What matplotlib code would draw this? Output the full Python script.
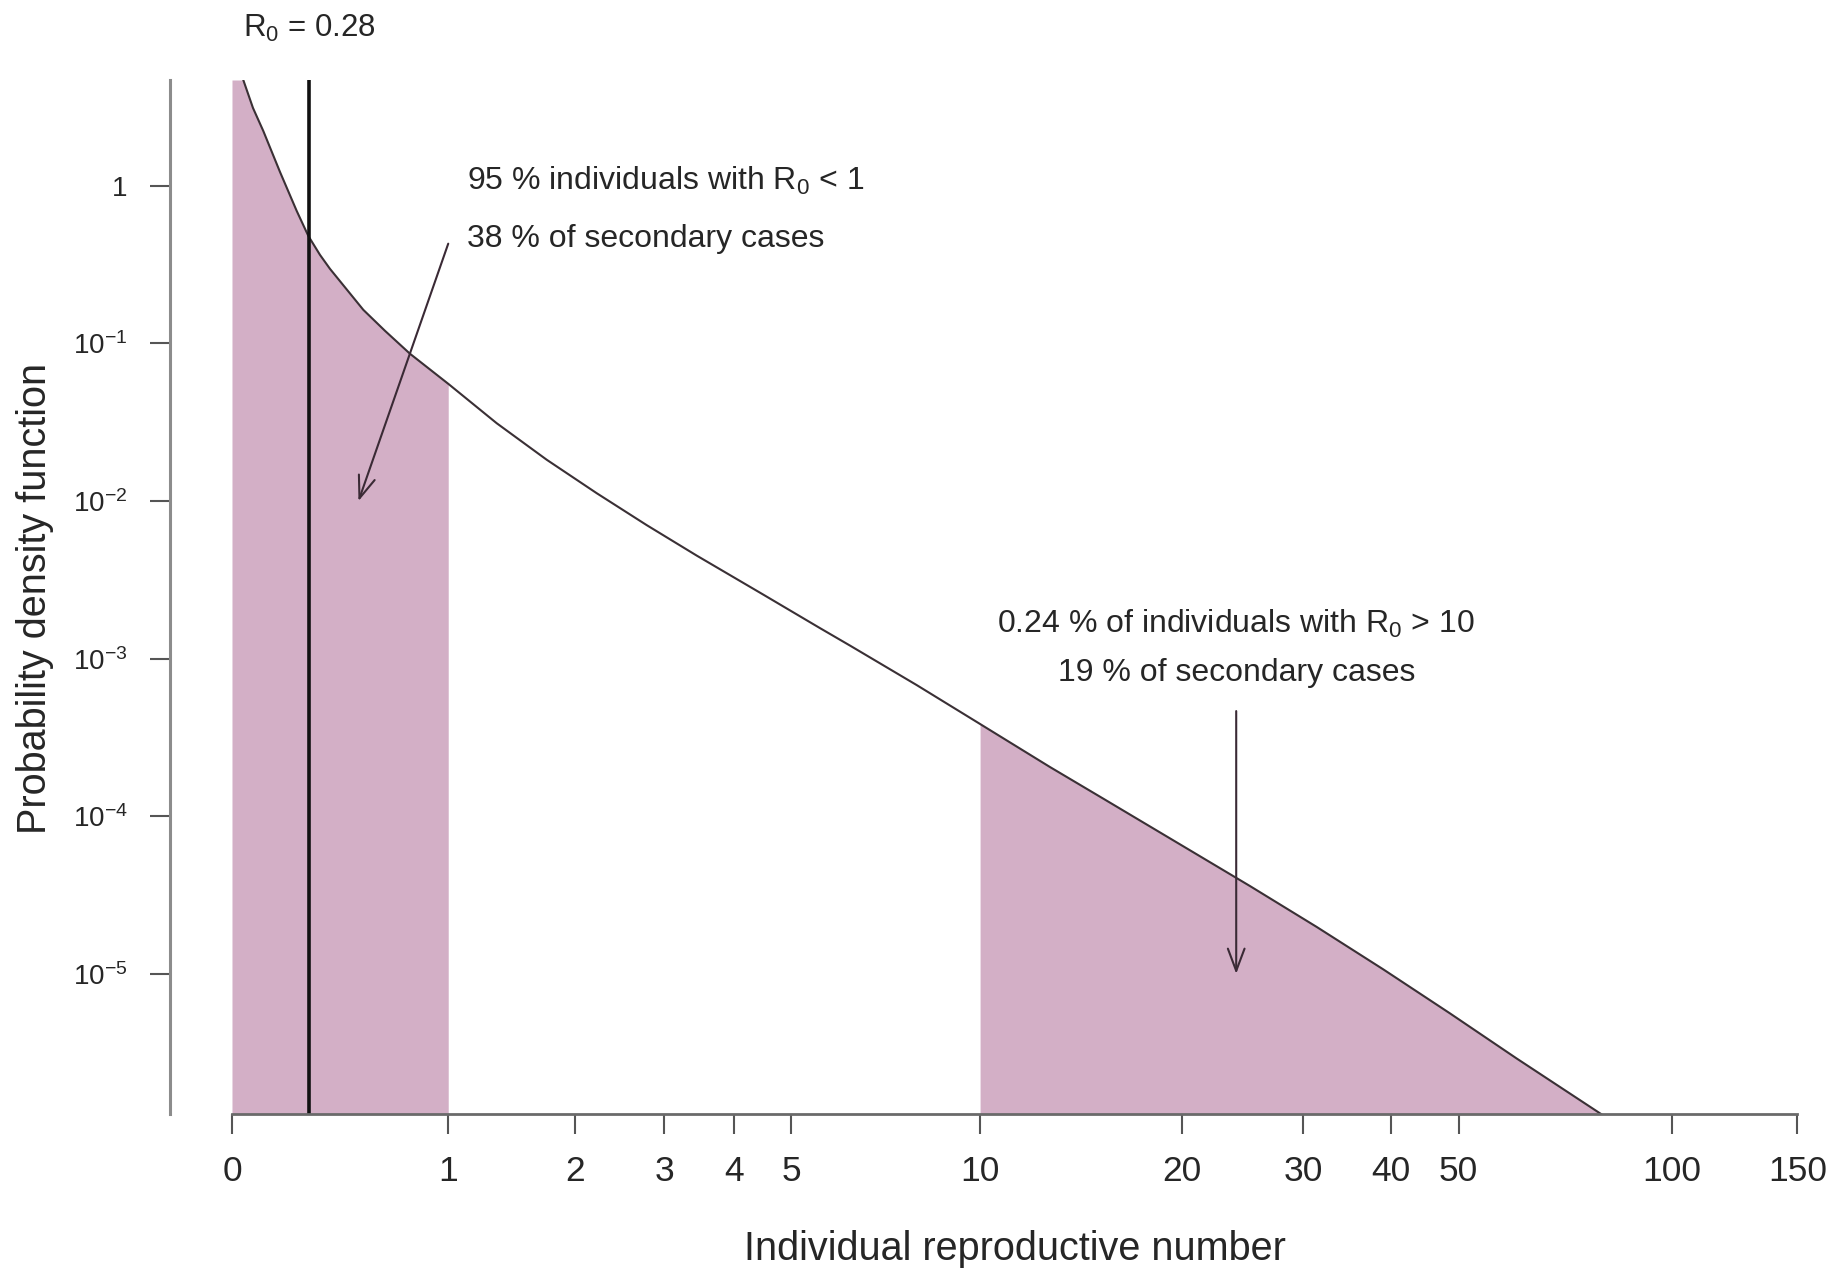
import numpy as np
import matplotlib.pyplot as plt
from matplotlib.ticker import FixedLocator, NullLocator

plt.rcParams['font.family'] = ['Liberation Sans', 'DejaVu Sans']
plt.rcParams['mathtext.fontset'] = 'custom'
plt.rcParams['mathtext.rm'] = 'Liberation Sans'
plt.rcParams['mathtext.it'] = 'Liberation Sans:italic'

# curve (individual R, density)
R = np.array([0.0369, 0.0696, 0.1055, 0.1663, 0.2305, 0.2771, 0.3259, 0.369,
              0.5233, 0.6329, 0.7692, 1.0, 1.336, 1.742, 2.219, 2.778, 3.435,
              4.49, 5.584, 6.249, 7.977, 10.0, 12.76, 15.31, 20.0, 25.12,
              31.35, 39.05, 48.58, 60.38, 79.5])
pdf = np.array([4.70, 3.124, 2.233, 1.227, 0.694, 0.482, 0.365, 0.2977,
                0.1636, 0.1204, 0.0861, 0.0555, 0.0312, 0.0183, 0.01122,
                0.00704, 0.00451, 0.00255, 0.001563, 0.001211, 6.80e-4,
                3.85e-4, 2.054e-4, 1.297e-4, 6.53e-5, 3.61e-5, 1.986e-5,
                1.068e-5, 5.62e-6, 2.91e-6, 1.29e-6])

R0 = 0.28
low_cut = 1
high_cut = 10

xticks = [0, 1, 2, 3, 4, 5, 10, 20, 30, 40, 50, 100, 150]
yticks = [1, 1e-1, 1e-2, 1e-3, 1e-4, 1e-5]
ylabels = ["1", r"$\mathdefault{10^{-1}}$", r"$\mathdefault{10^{-2}}$",
           r"$\mathdefault{10^{-3}}$", r"$\mathdefault{10^{-4}}$",
           r"$\mathdefault{10^{-5}}$"]

xlim = (-0.1802, 166.7)
ylim = (1.29e-6, 4.70)

fill_col = "#d3afc6"
text_col = "#262626"

fig = plt.figure(figsize=(18.35, 12.71), dpi=100)
ax = fig.add_axes([170/1835, 1 - 1114/1271, 1660/1835, 1034/1271])

ax.set_xscale('function', functions=(np.log1p, np.expm1))
ax.set_yscale('log')
ax.set_xlim(xlim)
ax.set_ylim(ylim)

# shaded tails
m = R <= low_cut
ax.fill_between(np.concatenate([[0], R[m]]), np.concatenate([[ylim[1]], pdf[m]]),
                ylim[0], color=fill_col, lw=0)
m = R >= high_cut
ax.fill_between(R[m], pdf[m], ylim[0], color=fill_col, lw=0)

ax.plot(R, pdf, color="#3a3035", lw=1.5, solid_joinstyle='round')
ax.axvline(R0, color="#111111", lw=2.6)

# arrows
ap = dict(arrowstyle="->,head_length=0.8,head_width=0.3", color="#3a2a35",
          lw=1.5, mutation_scale=20, shrinkA=0, shrinkB=0)
ax.annotate("", xy=(0.5, 0.01), xytext=(1.0, 0.43), arrowprops=ap)
ax.annotate("", xy=(24, 1.0e-5), xytext=(24, 4.65e-4), arrowprops=ap)

# text
ax.text(R0, 8.8, r"R$_0$ = 0.28", ha="center", va="baseline", fontsize=22.5,
        color=text_col, clip_on=False)
ax.text(1.122, 0.944, r"95 % individuals with R$_0$ < 1", ha="left",
        va="baseline", fontsize=23, color=text_col)
ax.text(1.122, 0.41, "38 % of secondary cases", ha="left", va="baseline",
        fontsize=23, color=text_col)
ax.text(24, 1.46e-3, r"0.24 % of individuals with R$_0$ > 10", ha="center",
        va="baseline", fontsize=23, color=text_col)
ax.text(24, 7.19e-4, "19 % of secondary cases", ha="center", va="baseline",
        fontsize=23, color=text_col)

# axes styling
for s in ['top', 'right']:
    ax.spines[s].set_visible(False)
ax.spines['left'].set_color("#8c8c8c")
ax.spines['left'].set_linewidth(2.2)
ax.spines['bottom'].set_color("#6a6a6a")
ax.spines['bottom'].set_linewidth(2.0)
ax.spines['bottom'].set_bounds(0, 150)

ax.xaxis.set_major_locator(FixedLocator(xticks))
ax.xaxis.set_minor_locator(NullLocator())
ax.set_xticklabels([str(t) for t in xticks])
ax.yaxis.set_major_locator(FixedLocator(yticks))
ax.yaxis.set_minor_locator(NullLocator())
ax.set_yticklabels(ylabels)

ax.tick_params(axis='both', direction='out', length=14.4, width=1.5,
               color="#555555", labelcolor=text_col, pad=16)
ax.tick_params(axis='y', labelsize=20)
ax.tick_params(axis='x', labelsize=25.5, pad=15)

ax.set_xlabel("Individual reproductive number", fontsize=28.5, color=text_col,
              va="center")
ax.xaxis.set_label_coords(0.509, -0.1306)
ax.set_ylabel("Probability density function", fontsize=28.5, color=text_col,
              va="center")
ax.yaxis.set_label_coords(-0.0813, 0.499)

plt.savefig("out.png", dpi=100)
